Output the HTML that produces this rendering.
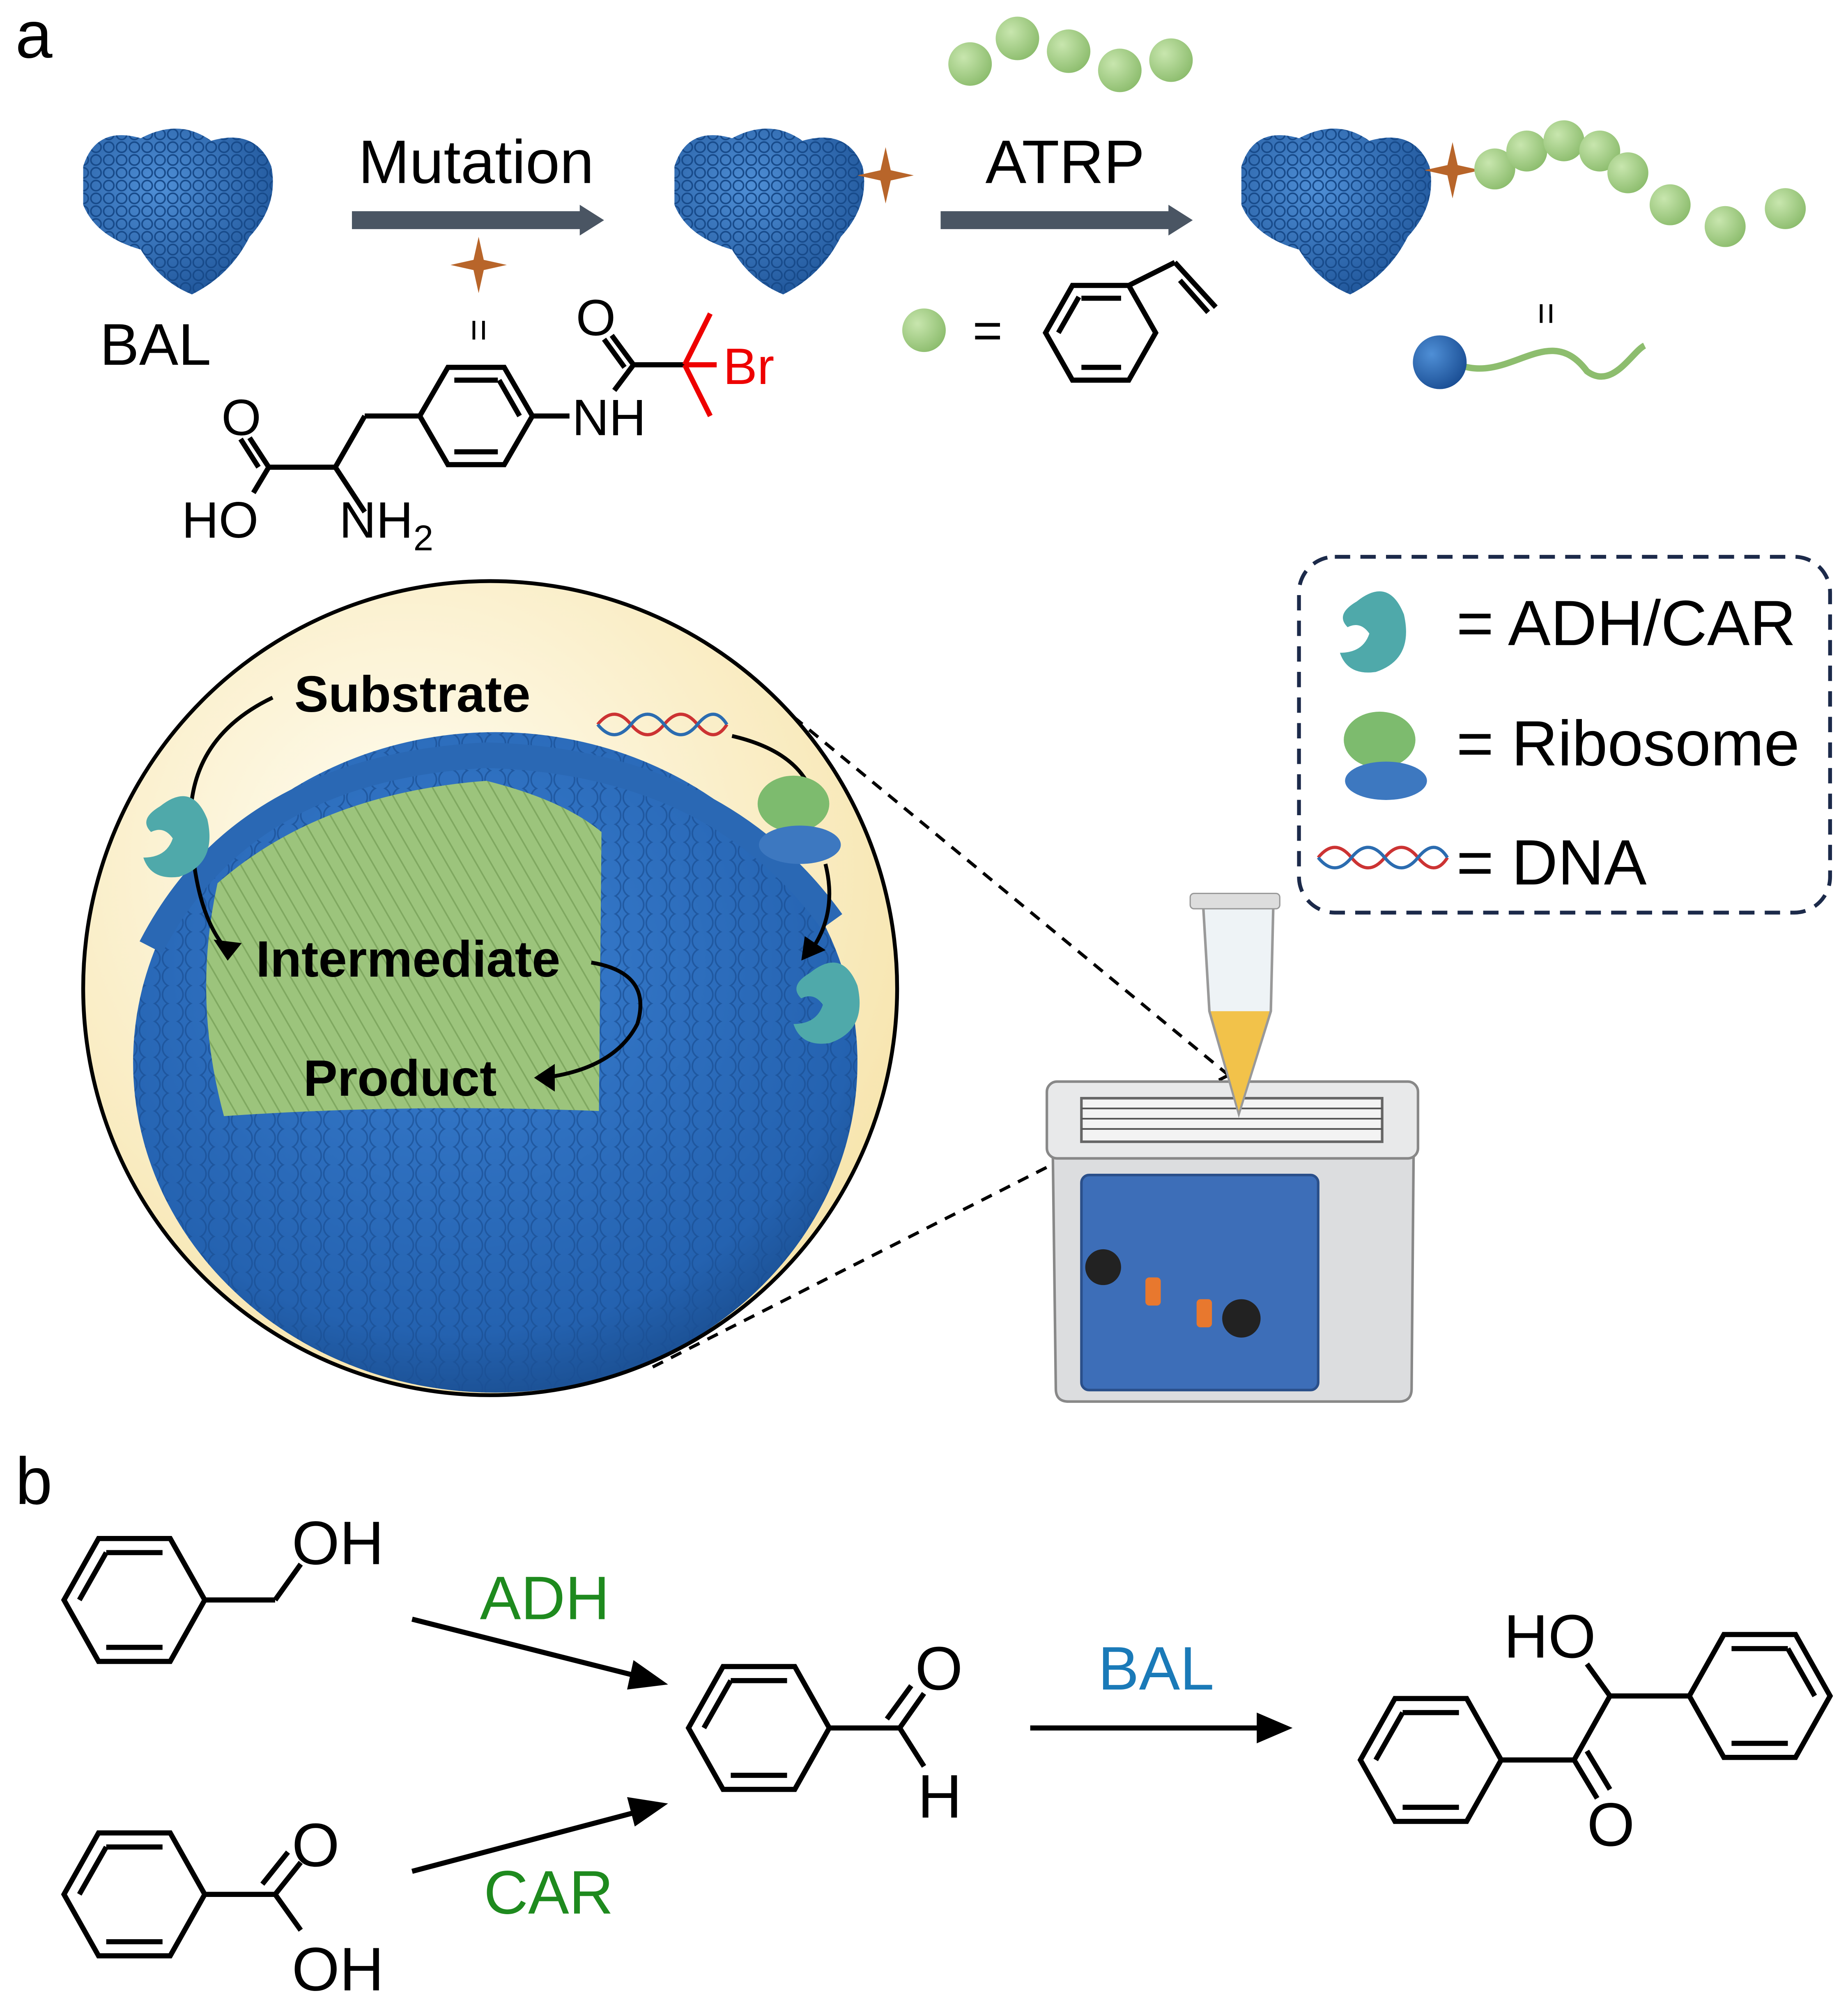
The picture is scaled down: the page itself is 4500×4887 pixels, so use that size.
<!DOCTYPE html>
<html><head><meta charset="utf-8"><style>
html,body{margin:0;padding:0;background:#fff;}
svg{display:block;}
text{font-family:"Liberation Sans",Arial,sans-serif;}
</style></head><body>
<svg width="4500" height="4887" viewBox="0 0 1444 1568" preserveAspectRatio="none" xmlns="http://www.w3.org/2000/svg">
<defs>
<radialGradient id="prot" cx="40%" cy="35%" r="70%"><stop offset="0" stop-color="#4f8fd6"/><stop offset="1" stop-color="#1f5599"/></radialGradient>
<radialGradient id="gb" cx="35%" cy="35%" r="70%"><stop offset="0" stop-color="#c8e6ae"/><stop offset="1" stop-color="#8dbd6e"/></radialGradient>
<radialGradient id="bg" cx="40%" cy="35%" r="75%"><stop offset="0" stop-color="#fffdf2"/><stop offset="1" stop-color="#f6e2a6"/></radialGradient>
<radialGradient id="sph" cx="45%" cy="35%" r="70%"><stop offset="0" stop-color="#3a7fd0"/><stop offset="0.8" stop-color="#2462b0"/><stop offset="1" stop-color="#184a8a"/></radialGradient>
<radialGradient id="bb" cx="35%" cy="35%" r="70%"><stop offset="0" stop-color="#4f8fd6"/><stop offset="1" stop-color="#1b4f95"/></radialGradient>
<pattern id="scale" width="18" height="14" patternUnits="userSpaceOnUse"><circle cx="9" cy="7" r="8" fill="none" stroke="#1a4f94" stroke-width="1.2"/></pattern>
<pattern id="fib" width="10" height="10" patternUnits="userSpaceOnUse" patternTransform="rotate(60)"><line x1="0" y1="5" x2="10" y2="5" stroke="#7fa860" stroke-width="1.2"/></pattern>
<pattern id="protx" width="10" height="10" patternUnits="userSpaceOnUse"><circle cx="5" cy="5" r="4" fill="none" stroke="#174a8a" stroke-width="1.2"/></pattern>
<clipPath id="cc"><circle cx="383" cy="772" r="317"/></clipPath>
</defs>

<text x="12" y="45" font-size="52">a</text>
<text x="12" y="1175" font-size="52">b</text>

<g id="p1">
<path d="M65,130 Q75,98 110,108 Q140,92 165,110 Q200,100 212,130 Q218,160 195,185 Q180,215 150,230 Q125,220 110,195 Q75,185 65,160 Z" fill="url(#prot)"/>
<path d="M65,130 Q75,98 110,108 Q140,92 165,110 Q200,100 212,130 Q218,160 195,185 Q180,215 150,230 Q125,220 110,195 Q75,185 65,160 Z" fill="url(#protx)"/>
</g>
<use href="#p1" transform="translate(462,0)"/>
<use href="#p1" transform="translate(905,0)"/>
<text x="78" y="285" font-size="46">BAL</text>

<rect x="275" y="165" width="180" height="14" fill="#4a5563"/><polygon points="453,160 472,172 453,184" fill="#4a5563"/>
<text x="280" y="143" font-size="48">Mutation</text>
<rect x="735" y="165" width="180" height="14" fill="#4a5563"/><polygon points="913,160 932,172 913,184" fill="#4a5563"/>
<text x="770" y="143" font-size="48">ATRP</text>

<g id="st" fill="#b8652a"><path d="M374,185 L378,203 L396,207 L378,211 L374,229 L370,211 L352,207 L370,203 Z"/></g>
<use href="#st" transform="translate(318,-70)"/>
<use href="#st" transform="translate(761,-74)"/>
<text x="374" y="268" font-size="30" text-anchor="middle" transform="rotate(90 374 258)">=</text>
<text x="1208" y="255" font-size="30" text-anchor="middle" transform="rotate(90 1208 245)">=</text>

<g fill="url(#gb)">
<circle cx="758" cy="50" r="17"/><circle cx="795" cy="30" r="17"/><circle cx="835" cy="40" r="17"/><circle cx="875" cy="55" r="17"/><circle cx="915" cy="47" r="17"/>
<circle cx="1168" cy="132" r="16"/><circle cx="1193" cy="118" r="16"/><circle cx="1222" cy="110" r="16"/><circle cx="1250" cy="118" r="16"/><circle cx="1272" cy="135" r="16"/><circle cx="1305" cy="160" r="16"/><circle cx="1348" cy="177" r="16"/><circle cx="1395" cy="163" r="16"/>
<circle cx="722" cy="258" r="17"/>
</g>
<text x="760" y="272" font-size="40">=</text>

<g fill="none" stroke="#000" stroke-width="4">
<polygon points="817,260 838,223 882,223 903,260 882,297 838,297"/>
<line x1="845" y1="233" x2="876" y2="233"/><line x1="876" y1="287" x2="845" y2="287"/><line x1="827" y1="260" x2="843" y2="232"/>
<line x1="882" y1="223" x2="918" y2="205"/><line x1="918" y1="205" x2="950" y2="240"/><line x1="922" y1="219" x2="944" y2="244"/>
</g>

<path d="M1140,285 C1180,300 1210,250 1240,290 C1260,305 1275,275 1285,270" fill="none" stroke="#8dbd6e" stroke-width="5"/>
<circle cx="1125" cy="283" r="21" fill="url(#bb)"/>

<g fill="none" stroke="#000" stroke-width="4">
<polygon points="328,325 350,287 394,287 416,325 394,363 350,363"/>
<line x1="355" y1="297" x2="389" y2="297"/><line x1="389" y1="353" x2="355" y2="353"/><line x1="406" y1="325" x2="390" y2="297"/>
<line x1="328" y1="325" x2="285" y2="325"/><line x1="285" y1="325" x2="262" y2="365"/><line x1="262" y1="365" x2="210" y2="365"/>
<line x1="262" y1="365" x2="285" y2="400"/>
<line x1="210" y1="365" x2="195" y2="342"/><line x1="202" y1="365" x2="188" y2="343"/>
<line x1="210" y1="365" x2="198" y2="385"/>
<line x1="416" y1="325" x2="445" y2="325"/>
<line x1="480" y1="305" x2="495" y2="285"/><line x1="495" y1="285" x2="478" y2="262"/><line x1="488" y1="287" x2="472" y2="265"/>
<line x1="495" y1="285" x2="535" y2="285"/>
</g>
<g stroke="#e00" stroke-width="4"><line x1="535" y1="285" x2="555" y2="245"/><line x1="535" y1="285" x2="555" y2="325"/><line x1="535" y1="285" x2="560" y2="285"/></g>
<text x="565" y="300" font-size="40" fill="#e00">Br</text>
<text x="447" y="340" font-size="40">NH</text>
<text x="450" y="262" font-size="40">O</text>
<text x="173" y="340" font-size="40">O</text>
<text x="142" y="420" font-size="40">HO</text>
<text x="265" y="420" font-size="40">NH</text><text x="323" y="430" font-size="28">2</text>

<circle cx="383" cy="772" r="318" fill="url(#bg)"/>
<g clip-path="url(#cc)">
<ellipse cx="387" cy="830" rx="283" ry="258" fill="url(#sph)"/>
<ellipse cx="387" cy="830" rx="283" ry="258" fill="url(#scale)" opacity="0.7"/>
<path d="M118,740 Q190,600 380,590 Q560,595 650,720" fill="none" stroke="#2a68b4" stroke-width="20"/>
</g>
<path d="M170,690 Q250,620 380,610 Q440,625 470,650 L468,868 Q320,862 175,872 Q150,780 170,690 Z" fill="#9cc47c"/>
<path d="M170,690 Q250,620 380,610 Q440,625 470,650 L468,868 Q320,862 175,872 Q150,780 170,690 Z" fill="url(#fib)"/>
<circle cx="383" cy="772" r="318" fill="none" stroke="#000" stroke-width="3"/>
<text x="230" y="556" font-size="40" font-weight="bold">Substrate</text>
<text x="200" y="763" font-size="40" font-weight="bold">Intermediate</text>
<text x="237" y="856" font-size="40" font-weight="bold">Product</text>
<g fill="none" stroke="#000" stroke-width="3">
<path d="M213,545 Q140,580 150,660 Q155,720 180,745"/><polygon points="178,748 170,736 186,738" fill="#000"/>
<path d="M462,752 Q510,760 498,800 Q480,835 425,842"/><polygon points="420,842 432,834 432,850" fill="#000"/>
<path d="M572,575 Q615,585 630,610"/>
<path d="M645,675 Q655,715 632,745"/><polygon points="628,748 630,734 642,742" fill="#000"/>
</g>
<g id="adh"><path d="M125,630 Q150,610 162,640 Q170,675 140,685 Q118,688 112,670 Q130,670 135,655 Q128,645 118,650 Q108,640 125,630 Z" fill="#4fa9aa"/></g>
<use href="#adh" transform="translate(508,130)"/>
<use href="#adh" transform="translate(935,-160)"/>
<g id="rib"><ellipse cx="620" cy="628" rx="28" ry="22" fill="#7dbb6e"/><ellipse cx="625" cy="660" rx="32" ry="15" fill="#3d78c0"/></g>
<use href="#rib" transform="translate(458,-50)"/>
<g id="dna" fill="none" stroke-width="2.5"><path d="M467,566 Q480,550 493,566 T519,566 T545,566 T568,566" stroke="#c33"/><path d="M467,566 Q480,582 493,566 T519,566 T545,566 T568,566" stroke="#2b6cb0"/></g>
<use href="#dna" transform="translate(563,104)"/>

<rect x="1015" y="435" width="415" height="278" rx="28" fill="none" stroke="#1c2a4a" stroke-width="3" stroke-dasharray="12,8"/>
<text x="1138" y="504" font-size="50">= ADH/CAR</text>
<text x="1138" y="598" font-size="50">= Ribosome</text>
<text x="1138" y="691" font-size="50">= DNA</text>

<g stroke="#000" stroke-width="2.5" stroke-dasharray="9,7"><line x1="620" y1="560" x2="960" y2="840"/><line x1="510" y1="1068" x2="960" y2="840"/></g>

<path d="M822,850 L1105,850 L1103,1085 Q1103,1095 1093,1095 L835,1095 Q825,1095 825,1085 Z" fill="#dcdddf" stroke="#888" stroke-width="2"/>
<rect x="818" y="845" width="290" height="60" rx="8" fill="#e8e9ea" stroke="#888" stroke-width="2"/>
<rect x="845" y="858" width="235" height="34" fill="#f3f3f3" stroke="#666" stroke-width="2"/>
<g stroke="#555" stroke-width="1.3"><line x1="845" y1="866" x2="1080" y2="866"/><line x1="845" y1="874" x2="1080" y2="874"/><line x1="845" y1="882" x2="1080" y2="882"/></g>
<rect x="845" y="918" width="185" height="168" rx="6" fill="#3d6eb8" stroke="#2a4f8a" stroke-width="2"/>
<circle cx="862" cy="990" r="14" fill="#222"/><circle cx="970" cy="1030" r="15" fill="#222"/>
<rect x="895" y="998" width="12" height="22" rx="3" fill="#e8782e"/><rect x="935" y="1015" width="12" height="22" rx="3" fill="#e8782e"/>
<path d="M940,705 L995,705 L993,790 L968,870 L945,790 Z" fill="#eef3f6" stroke="#999" stroke-width="2"/>
<path d="M946,790 L992,790 L968,868 Z" fill="#f2c24a"/>
<rect x="930" y="698" width="70" height="12" rx="3" fill="#ddd" stroke="#999"/>

<g fill="none" stroke="#000" stroke-width="4">
<polygon points="50,1250 77,1202 133,1202 160,1250 133,1298 77,1298"/>
<line x1="83" y1="1213" x2="127" y2="1213"/><line x1="127" y1="1287" x2="83" y2="1287"/><line x1="62" y1="1250" x2="83" y2="1213"/>
<line x1="160" y1="1250" x2="215" y2="1250"/><line x1="215" y1="1250" x2="235" y2="1222"/>
<polygon points="50,1480 77,1432 133,1432 160,1480 133,1528 77,1528"/>
<line x1="83" y1="1443" x2="127" y2="1443"/><line x1="127" y1="1517" x2="83" y2="1517"/><line x1="62" y1="1480" x2="83" y2="1443"/>
<line x1="160" y1="1480" x2="215" y2="1480"/><line x1="215" y1="1480" x2="235" y2="1455"/><line x1="205" y1="1472" x2="225" y2="1447"/><line x1="215" y1="1480" x2="235" y2="1508"/>
<polygon points="538,1350 565,1302 621,1302 648,1350 621,1398 565,1398"/>
<line x1="571" y1="1313" x2="615" y2="1313"/><line x1="615" y1="1387" x2="571" y2="1387"/><line x1="550" y1="1350" x2="571" y2="1313"/>
<line x1="648" y1="1350" x2="703" y2="1350"/><line x1="703" y1="1350" x2="722" y2="1323"/><line x1="693" y1="1343" x2="712" y2="1317"/><line x1="703" y1="1350" x2="722" y2="1380"/>
<polygon points="1063,1375 1090,1327 1146,1327 1173,1375 1146,1423 1090,1423"/>
<line x1="1096" y1="1338" x2="1140" y2="1338"/><line x1="1140" y1="1412" x2="1096" y2="1412"/><line x1="1075" y1="1375" x2="1096" y2="1338"/>
<line x1="1173" y1="1375" x2="1230" y2="1375"/><line x1="1230" y1="1375" x2="1258" y2="1325"/><line x1="1230" y1="1375" x2="1248" y2="1405"/><line x1="1240" y1="1368" x2="1258" y2="1398"/>
<line x1="1258" y1="1325" x2="1320" y2="1325"/><line x1="1258" y1="1325" x2="1240" y2="1300"/>
<polygon points="1320,1325 1347,1277 1403,1277 1430,1325 1403,1373 1347,1373"/>
<line x1="1353" y1="1288" x2="1397" y2="1288"/><line x1="1397" y1="1362" x2="1353" y2="1362"/><line x1="1418" y1="1325" x2="1397" y2="1288"/>
<line x1="322" y1="1265" x2="500" y2="1310"/><line x1="322" y1="1462" x2="500" y2="1415"/><line x1="805" y1="1350" x2="985" y2="1350"/>
</g>
<g fill="#000"><polygon points="522,1316 495,1297 490,1320"/><polygon points="522,1409 490,1404 496,1427"/><polygon points="1010,1350 982,1338 982,1362"/></g>
<g font-size="48">
<text x="228" y="1222">OH</text>
<text x="228" y="1458">O</text><text x="228" y="1555">OH</text>
<text x="715" y="1320">O</text><text x="717" y="1420">H</text>
<text x="1175" y="1295">HO</text><text x="1240" y="1442">O</text>
<text x="375" y="1265" fill="#1e8a1e">ADH</text>
<text x="378" y="1495" fill="#1e8a1e">CAR</text>
<text x="858" y="1320" fill="#1a7ab8">BAL</text>
</g>
</svg>
</body></html>
